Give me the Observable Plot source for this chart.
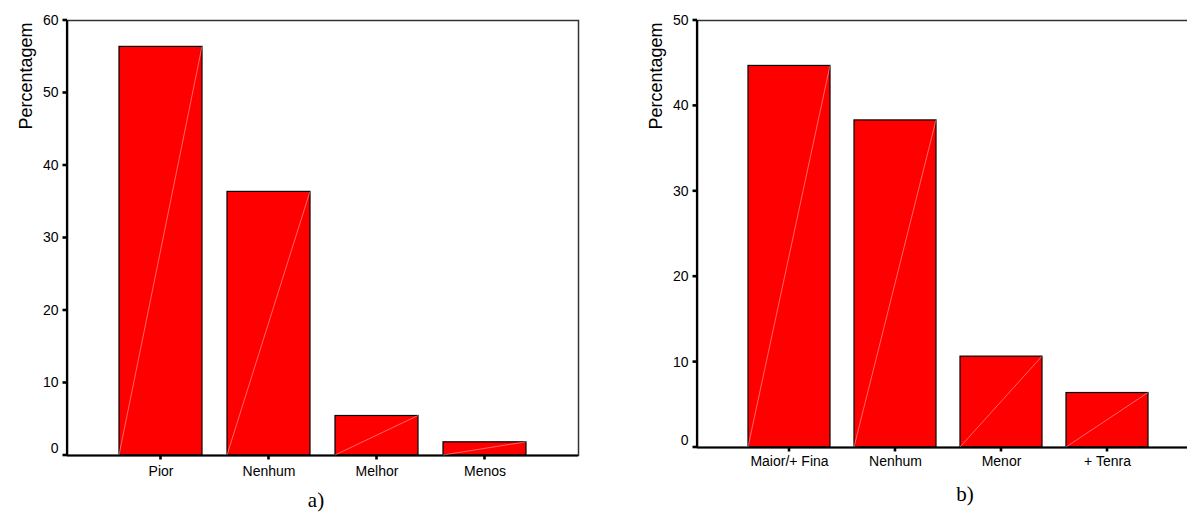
<!DOCTYPE html>
<html>
<head>
<meta charset="utf-8">
<script src="https://cdn.jsdelivr.net/npm/d3@7"></script>
<script src="https://cdn.jsdelivr.net/npm/@observablehq/plot@0.6"></script>
<style>
  html, body { margin: 0; padding: 0; background: #fff; overflow: hidden; }
  #page { position: relative; width: 1187px; height: 515px; overflow: hidden; }
  .panel { position: absolute; top: 0; width: 600px; height: 490px; }
  .panel svg { max-width: none !important; display: block; }
  .cap {
    position: absolute;
    font-family: "Liberation Serif", "Times New Roman", serif;
    font-size: 21px;
    line-height: 21px;
    color: #000;
    transform: translateX(-50%);
    white-space: nowrap;
  }
</style>
</head>
<body>
<div id="page">
  <div id="panelA" class="panel" style="left:0px"></div>
  <div id="panelB" class="panel" style="left:620px"></div>
  <div id="capA" class="cap" style="left:316px; top:490px"></div>
  <div id="capB" class="cap" style="left:965px; top:484px"></div>
</div>
<script>
// Panel a)
const catsA = ["Pior", "Nenhum", "Melhor", "Menos"];
const valsA = [56.36, 36.36, 5.45, 1.82];
const ticksA = [0, 10, 20, 30, 40, 50, 60];

// Panel b)
const catsB = ["Maior/+ Fina", "Nenhum", "Menor", "+ Tenra"];
const valsB = [44.68, 38.30, 10.64, 6.38];
const ticksB = [0, 10, 20, 30, 40, 50];

const yLabel = "Percentagem";
const captions = ["a)", "b)"];

const sansFont = "'Liberation Sans', Arial, Helvetica, sans-serif";
const TICK = 4.5;

// Thin light diagonal across each bar (bottom-left to top-right), the heavier
// left axis line and the short square-ish tick marks on both axes.
function barDecor(data, ticks) {
  return (index, scales, values, dim) => {
    const x = scales.x, y = scales.y;
    const bw = typeof x.bandwidth === "function" ? x.bandwidth() : x.bandwidth;
    const left = dim.marginLeft, bottom = dim.height - dim.marginBottom;
    const g = d3.create("svg:g");
    for (const d of data) {
      g.append("line")
        .attr("x1", x(d.cat)).attr("y1", y(0))
        .attr("x2", x(d.cat) + bw).attr("y2", y(d.value))
        .attr("stroke", "#fff")
        .attr("stroke-opacity", 0.5)
        .attr("stroke-width", 0.8);
    }
    g.append("line")
      .attr("x1", left).attr("x2", left)
      .attr("y1", dim.marginTop).attr("y2", bottom)
      .attr("stroke", "#000").attr("stroke-width", 2.2);
    for (const t of ticks) {
      g.append("line")
        .attr("x1", left - TICK).attr("x2", left)
        .attr("y1", y(t)).attr("y2", y(t))
        .attr("stroke", "#000").attr("stroke-width", 2.6);
    }
    for (const d of data) {
      const cx = x(d.cat) + bw / 2;
      g.append("line")
        .attr("x1", cx).attr("x2", cx)
        .attr("y1", bottom).attr("y2", bottom + TICK)
        .attr("stroke", "#000").attr("stroke-width", 2.6);
    }
    return g.node();
  };
}

function panel(cats, vals, ticks, opts) {
  const data = cats.map((c, i) => ({cat: c, value: vals[i]}));
  return Plot.plot({
    width: 600,
    height: 490,
    marginLeft: opts.marginLeft,
    marginRight: 22,
    marginTop: 20,
    marginBottom: opts.marginBottom,
    style: {fontFamily: sansFont, fontSize: "14px", color: "#000", background: "transparent",
      overflow: "visible", maxWidth: "none"},
    x: {domain: cats, paddingInner: 0.227, paddingOuter: 0.47, align: 0.5, label: null},
    y: {domain: [ticks[0], ticks[ticks.length - 1]], label: null},
    marks: [
      Plot.barY(data, {x: "cat", y: "value", fill: "#ff0000", stroke: "#000", strokeWidth: 1.2}),
      Plot.frame({stroke: "#333", strokeWidth: 1.5}),
      Plot.ruleY([0], {stroke: "#000", strokeWidth: 2.2}),
      barDecor(data, ticks),
      Plot.axisY({ticks, tickSize: 0, tickPadding: 9, label: null,
        tickFormat: d => d === 0 ? "" : String(d)}),
      Plot.text([0], {y: d => d, text: d => String(d), frameAnchor: "left", textAnchor: "end", dx: -9, dy: -7, fontSize: 14}),
      Plot.axisX({tickSize: 0, tickPadding: opts.xPad, label: null}),
      Plot.text([yLabel], {text: d => d, frameAnchor: "top-left", rotate: -90, textAnchor: "end",
        dx: -48, dy: 2, fontSize: 18})
    ]
  });
}

document.getElementById("panelA").append(panel(catsA, valsA, ticksA, {marginLeft: 67, marginBottom: 35, xPad: 11}));
document.getElementById("panelB").append(panel(catsB, valsB, ticksB, {marginLeft: 77, marginBottom: 43, xPad: 9}));
document.getElementById("capA").textContent = captions[0];
document.getElementById("capB").textContent = captions[1];
</script>
</body>
</html>
